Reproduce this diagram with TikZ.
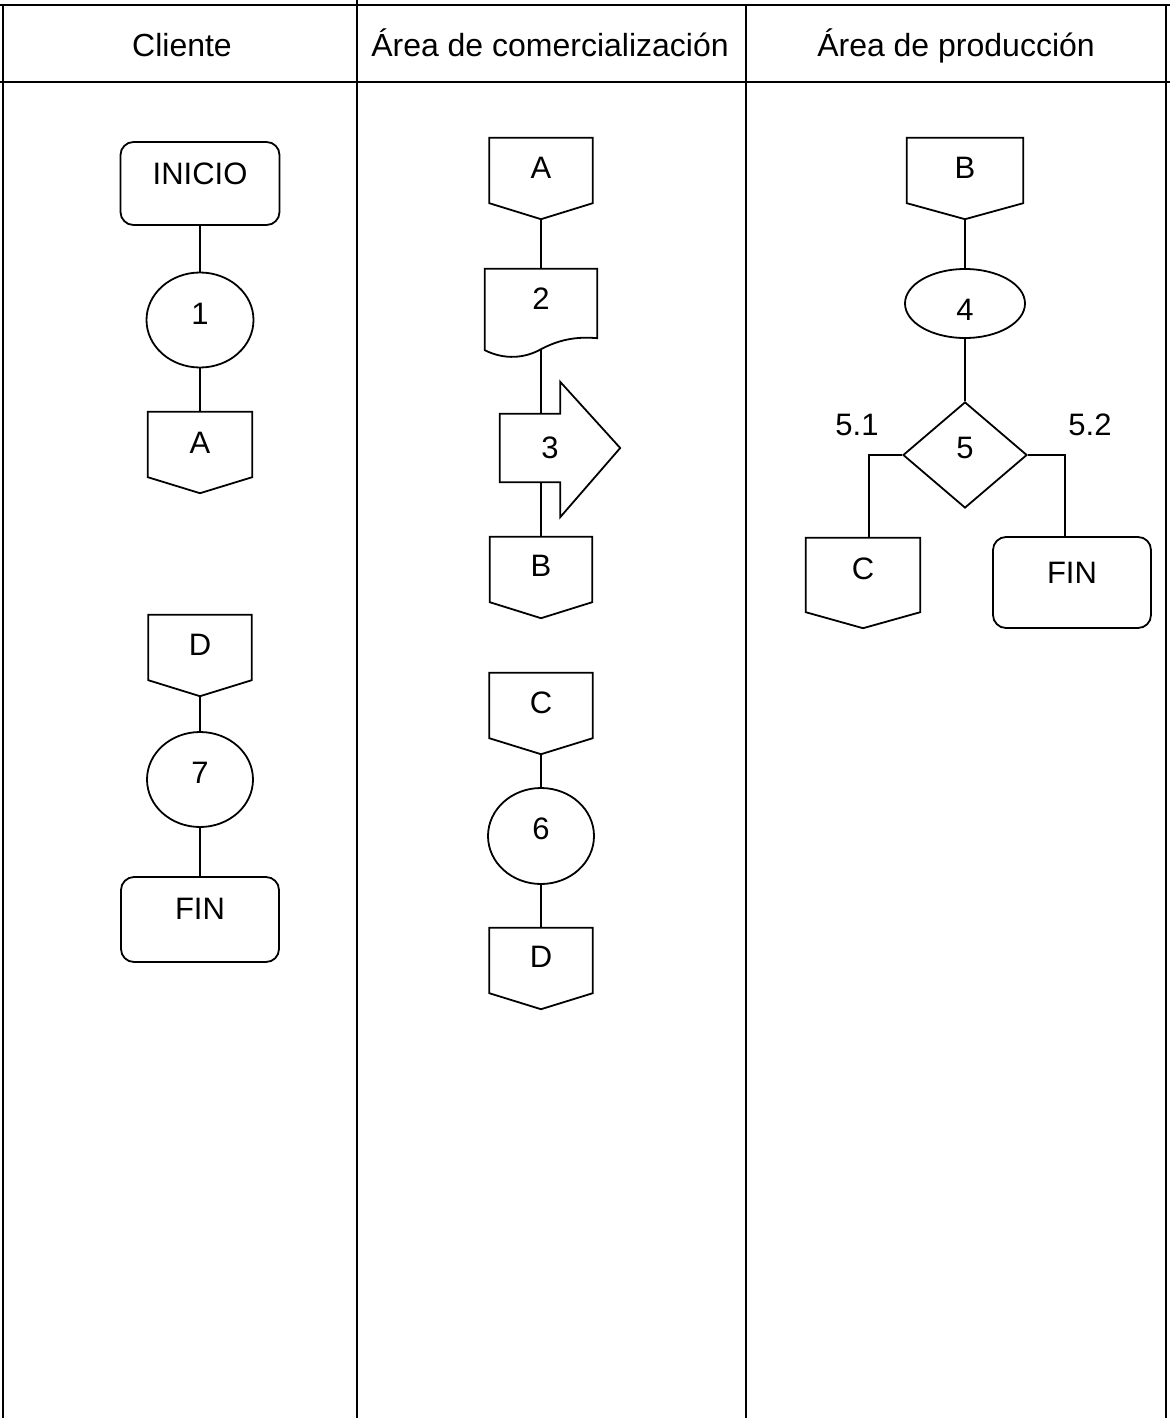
\documentclass[tikz,border=0pt]{standalone}
\usepackage{fontspec}
\setmainfont{Liberation Sans}
\usetikzlibrary{shapes.geometric}
\newcommand\offpg[7]{%
  \node[offbox, minimum width=#4pt, minimum height=#5pt, text depth=#7pt] (#1) at (#2,#3) {#6};
  \draw[shapeline] (#1.north west) -- (#1.north east) -- (#1.south east) -- ([yshift=-16pt]#1.south) -- (#1.south west) -- cycle;
  \coordinate (#1-tip) at ([yshift=-16pt]#1.south);
}
\begin{document}
\begin{tikzpicture}[x=1pt,y=-1pt,
  every node/.style={font=\fontsize{31}{36}\selectfont},
  framel/.style={line width=2.4pt},
  shapeline/.style={line width=1.8pt, line join=miter},
  conn/.style={line width=1.6pt},
  hdr/.style={font=\fontsize{32}{38}\selectfont, inner sep=0pt, text height=23pt, text depth=0pt},
  offbox/.style={inner sep=0pt, text height=22pt},
  term/.style={draw, shapeline, rounded corners=13pt, inner sep=0pt, text height=22pt},
  proc/.style={draw, shapeline, ellipse, inner sep=0pt, text height=22pt},
  dec/.style={draw, shapeline, diamond, inner sep=0pt, text height=22pt},
  txt/.style={inner sep=0pt},
]
\useasboundingbox (0,0) rectangle (1170,1418);

% frame
\draw[framel] (0,5) -- (1170,5);
\draw[framel] (0,82) -- (1170,82);
\draw[framel] (3,5) -- (3,1418);
\draw[framel] (357,0) -- (357,1418);
\draw[framel] (746,5) -- (746,1418);
\draw[framel] (1166,5) -- (1166,1418);

% headers
\node[hdr] (h1) at (182,45) {Cliente};
\node[hdr] (h2) at (550,45) {Área de comercialización};
\node[hdr] (h3) at (956,45) {Área de producción};

% column 1
\node[term, minimum width=159pt, minimum height=83pt, text depth=20pt] (inicio) at (200,183.5) {INICIO};
\node[proc, minimum width=107pt, minimum height=95pt, text depth=14pt] (p1) at (200,320) {1};
\offpg{A1}{200}{444.5}{104}{65}{A}{4}
\offpg{D1}{200}{647.5}{103}{65}{D}{6}
\node[proc, minimum width=106pt, minimum height=95pt, text depth=15pt] (p7) at (200,779.5) {7};
\node[term, minimum width=158pt, minimum height=85pt, text depth=22pt] (fin1) at (200,919.5) {FIN};

\draw[conn] (inicio.south) -- (p1.north);
\draw[conn] (p1.south) -- (A1.north);
\draw[conn] (D1-tip) -- (p7.north);
\draw[conn] (p7.south) -- (fin1.north);

% column 2
\offpg{A2}{541}{170.5}{103}{65}{A}{7}
\node[offbox, minimum width=112pt, minimum height=69pt, text depth=11pt] (p2) at (541,303.5) {2};
\draw[shapeline] (p2.north west) -- (p2.north east) -- (p2.south east)
  .. controls ([xshift=-22pt,yshift=2pt]p2.south east) and ([xshift=17pt,yshift=-2pt]p2.south) .. ([yshift=-11pt]p2.south)
  .. controls ([xshift=-16pt,yshift=-20pt]p2.south) and ([xshift=20pt,yshift=-22pt]p2.south west) .. ([yshift=-12pt]p2.south west) -- cycle;
\node[offbox, minimum width=60pt, minimum height=68pt] (p3) at (530,448) {\hspace*{40pt}3};
\draw[shapeline] (p3.north west) -- (p3.north east) -- ([yshift=32pt]p3.north east) -- ([xshift=60pt]p3.east)
  -- ([yshift=-35pt]p3.south east) -- (p3.south east) -- (p3.south west) -- cycle;
\offpg{B2}{541}{569.5}{102}{65}{B}{8}
\offpg{C2}{541}{705.5}{103}{65}{C}{7}
\node[proc, minimum width=106pt, minimum height=96pt, text depth=16pt] (p6) at (541,836) {6};
\offpg{D2}{541}{960.5}{103}{65}{D}{9}

\draw[conn] (A2-tip) -- (p2.north);
\draw[conn] ([yshift=-11pt]p2.south) -- (p2.south |- p3.north);
\draw[conn] (p2.south |- p3.south) -- (B2.north);
\draw[conn] (C2-tip) -- (p6.north);
\draw[conn] (p6.south) -- (D2.north);

% column 3
\offpg{B3}{965}{170.5}{116}{65}{B}{6}
\node[proc, minimum width=120pt, minimum height=69pt, text height=34pt, text depth=0pt] (p4) at (965,303.5) {4};
\node[dec, minimum width=124pt, minimum height=106pt, text depth=16pt] (p5) at (965,455) {5};
\offpg{C3}{863}{575}{114}{74}{C}{14}
\node[term, minimum width=158pt, minimum height=91pt, text depth=21pt] (fin3) at (1072,582.5) {FIN};
\node[txt] (l51) at (857,425) {5.1};
\node[txt] (l52) at (1090,425) {5.2};

\draw[conn] (B3-tip) -- (p4.north);
\draw[conn] (p4.south) -- (p5.north);
\draw[conn] (p5.west) -| ([xshift=6pt]C3.north);
\draw[conn] (p5.east) -| ([xshift=-7pt]fin3.north);
\end{tikzpicture}
\end{document}
